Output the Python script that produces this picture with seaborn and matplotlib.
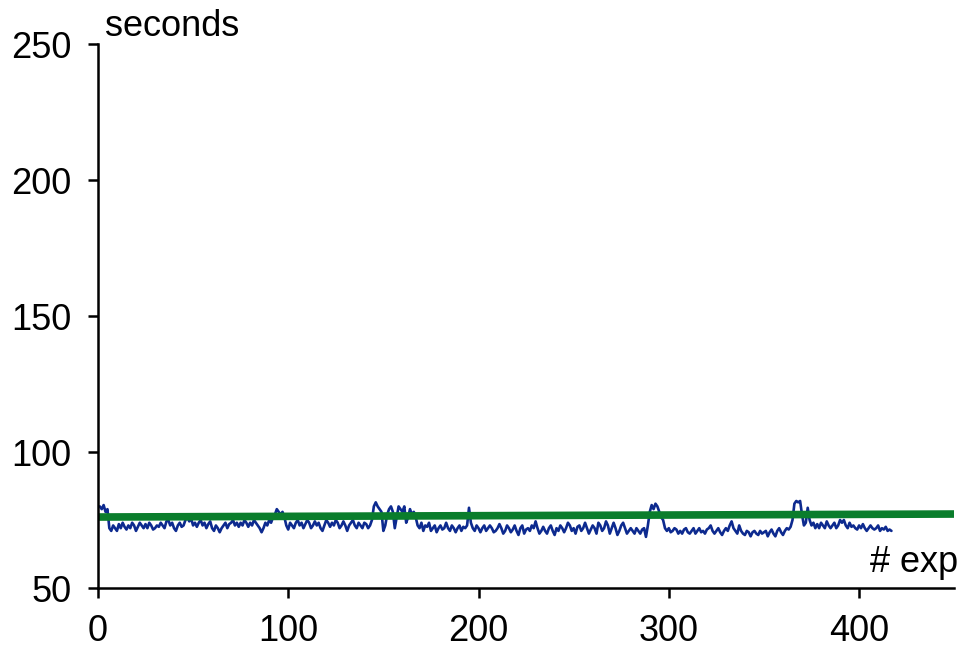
import numpy as np
import pandas as pd
import matplotlib
matplotlib.use("Agg")
import matplotlib.pyplot as plt
import seaborn as sns

# ---- data ----
seconds = [
    80, 79, 80.5, 78, 79,
    72, 71, 73, 72, 71, 73.5, 72, 74, 72.5, 71.5,
    73, 72, 74, 73, 71, 72.5, 74, 73, 72, 73.5,
    72, 74, 73, 71.5, 72, 73, 72.5, 74, 73, 72,
    74.5, 75, 73, 74, 72, 71, 73, 74, 72.5, 73,
    75, 76, 74.5, 75.5, 73, 74, 72.5, 74, 75, 73,
    74, 72, 73.5, 74.5, 72, 71, 73, 72, 70.5, 72,
    73, 74, 72, 73.5, 74, 75, 73, 74, 72.5, 74,
    73, 75, 74, 72.5, 74, 73, 75, 74, 73, 72,
    70.5, 72, 74, 73, 75, 74, 76, 77, 79, 78,
    77, 78, 76, 73, 71.5, 74, 73, 72, 74, 75,
    73, 74, 72, 73.5, 75, 74, 72, 73, 74.5, 73,
    74, 72, 71, 73, 75, 74, 72.5, 74, 73, 75,
    74, 72, 73, 74.5, 73, 71, 73, 74, 75, 73,
    72, 74, 73, 72, 74, 73.5, 72, 73, 75, 80,
    81.5, 80, 79, 78, 71, 73, 77, 79, 80, 78,
    72, 76, 80, 79, 78, 80, 74, 76, 79, 77,
    78, 76, 73, 72, 74, 71, 73, 72.5, 74, 71,
    72, 73, 70.5, 72, 73, 71.5, 72, 74, 72, 71,
    73, 72, 70.5, 72, 73, 71, 72.5, 72, 73, 79.5,
    74, 72, 71, 73, 72, 70.5, 72, 73, 71, 72,
    73, 72, 70.5, 71, 72, 73.5, 72, 70, 71, 73,
    72, 70.5, 71.5, 73, 71, 69.5, 72, 73, 70, 71.5,
    72, 71, 73, 72, 74.5, 72, 70, 71, 72.5, 71,
    70, 72, 73, 71, 69.5, 72, 71, 73, 72, 70.5,
    72, 74, 73, 71, 72, 70, 72.5, 73, 71, 72,
    74, 72, 70, 71.5, 73, 72, 70, 74, 73, 71,
    72, 74.5, 73, 70, 72, 74, 72, 69.5, 71, 73,
    74, 72, 70, 71, 72, 71, 70, 72, 71, 70,
    71.5, 72, 68.8, 73, 78, 80.5, 79, 81, 80, 78,
    76, 75, 72, 71, 72, 70.5, 71, 72, 71.5, 70,
    71, 70, 71.5, 72, 70.5, 70, 71, 72, 70, 71,
    72, 70.5, 71, 70, 71.5, 72, 73, 71, 70, 71,
    72, 70.5, 69.5, 71, 72, 71, 73, 74.5, 72, 71,
    70, 73, 71, 70, 69.5, 71, 70.5, 69, 70.5, 71,
    70, 69.5, 71, 70, 70.5, 71, 69, 70.5, 71.5, 70,
    69, 71, 72, 70.5, 69.5, 71, 72, 71.5, 72.5, 75,
    81, 82, 81.5, 82, 77, 73, 74, 79.5, 75, 73,
    74, 72, 73.5, 72, 74, 73, 72, 74.5, 73, 72,
    73, 74, 72, 73, 75, 74, 75, 73, 72, 74,
    72.5, 73, 72, 71.5, 73, 72, 73.5, 72, 71, 72,
    73, 72, 71.5, 72, 73, 71, 72, 71.5, 72.5, 71, 71.5, 71,
]
experiments = list(range(1, len(seconds) + 1))

trend_x = [0, 450]
trend_y = [76.1, 77.2]

x_ticks = [0, 100, 200, 300, 400]
y_ticks = [50, 100, 150, 200, 250]

# ---- plotting ----
sns.set_style("ticks")
plt.rcParams["font.family"] = ["Liberation Sans", "DejaVu Sans"]
plt.rcParams["text.color"] = "black"

fig = plt.figure(figsize=(9.6, 6.57), dpi=100)
ax = fig.add_axes([0.102, 0.105, 0.892, 0.828])

df = pd.DataFrame({"exp": experiments, "sec": seconds})
sns.lineplot(data=df, x="exp", y="sec", ax=ax, color="#0d2a8f", linewidth=1.9)
tdf = pd.DataFrame({"x": trend_x, "y": trend_y})
sns.lineplot(data=tdf, x="x", y="y", ax=ax, color="#0a7d2c", linewidth=5.5)

ax.set_xlim(0, 450)
ax.set_ylim(50, 250)
ax.set_xticks(x_ticks)
ax.set_yticks(y_ticks)
ax.set_xlabel("")
ax.set_ylabel("")

for s in ["top", "right"]:
    ax.spines[s].set_visible(False)
for s in ["left", "bottom"]:
    ax.spines[s].set_linewidth(1.8)
    ax.spines[s].set_color("black")

ax.tick_params(axis="both", direction="out", length=7, width=1.8,
               labelsize=26, colors="black")
ax.tick_params(axis="y", pad=12)
ax.tick_params(axis="x", pad=12)

ax.text(0.008, 1.0, "seconds", transform=ax.transAxes, fontsize=26,
        ha="left", va="bottom", color="black")
ax.text(1.005, 0.015, "# exp", transform=ax.transAxes, fontsize=26,
        ha="right", va="bottom", color="black")

fig.savefig("out.png", dpi=100)
